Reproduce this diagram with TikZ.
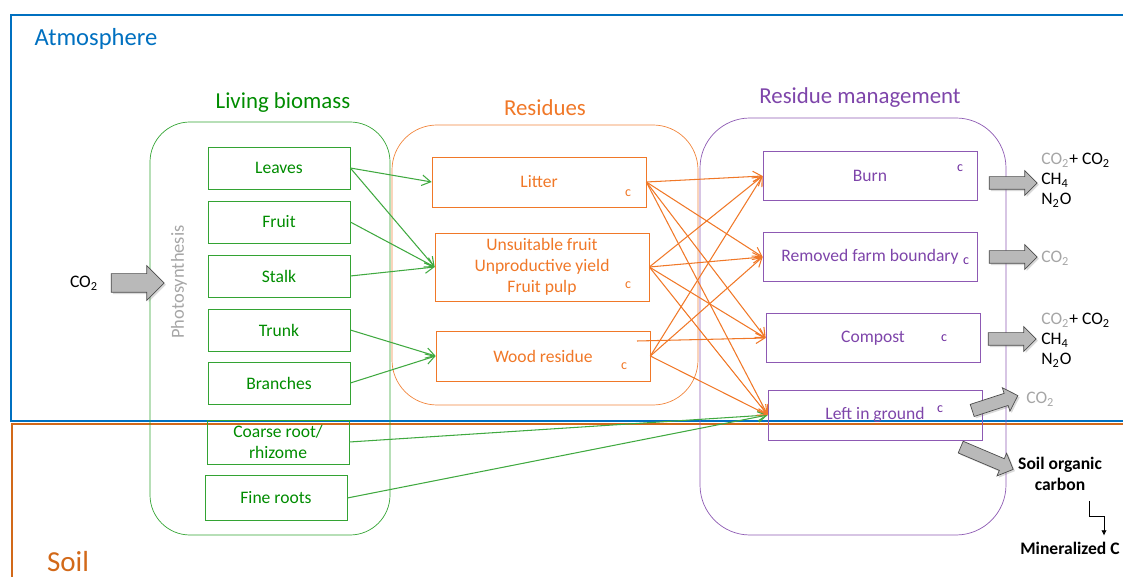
\documentclass[tikz,border=0pt]{standalone}
\usepackage{fontspec}
\setmainfont{Carlito}
\usetikzlibrary{arrows.meta,shapes.arrows,shadows}

\definecolor{atmblue}{RGB}{0,112,192}
\definecolor{soilorange}{RGB}{210,105,25}
\definecolor{bioGreen}{RGB}{0,140,0}
\definecolor{resOrange}{RGB}{240,120,40}
\definecolor{mgmtPurple}{RGB}{112,48,160}
\definecolor{gasGray}{RGB}{166,166,166}

\tikzset{
  gbox/.style={draw=bioGreen!80, text=bioGreen, minimum width=2.84cm, minimum height=0.84cm, inner sep=0pt, font=\fontsize{10}{12}\selectfont},
  obox/.style={draw=resOrange, text=resOrange, minimum width=4.28cm, minimum height=1cm, inner sep=0pt, align=center, font=\fontsize{10}{12}\selectfont},
  pbox/.style={draw=mgmtPurple!80, text=mgmtPurple!90, minimum width=4.28cm, minimum height=0.98cm, inner sep=0pt, font=\fontsize{10}{12}\selectfont},
  cmark/.style={inner sep=0pt, font=\fontsize{8}{9}\selectfont},
  head/.style={font=\fontsize{13}{15}\selectfont},
  garrow/.style={draw=bioGreen!75, semithick, -{Straight Barb[length=5pt,width=6pt]}},
  oarrow/.style={draw=resOrange, semithick, -{Straight Barb[length=5pt,width=6pt]}},
  fatarrow/.style={single arrow, draw=black!70, fill=gray!55, inner xsep=0pt, single arrow head indent=0pt, drop shadow={shadow xshift=1pt, shadow yshift=-1pt, opacity=0.3}},
  bigfat/.style={fatarrow, minimum height=1.06cm, inner ysep=0.18cm, single arrow head extend=0.16cm},
  smallfat/.style={fatarrow, minimum height=0.96cm, inner ysep=0.12cm, single arrow head extend=0.12cm},
  gas/.style={anchor=west, inner sep=0pt, font=\fontsize{10}{12}\selectfont},
}

\begin{document}
\begin{tikzpicture}[x=0.02cm, y=-0.02cm]
  \useasboundingbox (0,0) rectangle (1123,577);

  % atmosphere and soil
  \draw[atmblue, line width=1.2pt] (1123,15) -- (11,15) -- (11,421) -- (1123,421);
  \draw[soilorange, line width=1.2pt] (1123,424) -- (12,424) -- (12,577);
  \node[text=atmblue, font=\fontsize{14}{16}\selectfont] (atm) at (96,39) {Atmosphere};
  \node[text=soilorange, font=\fontsize{16.5}{18}\selectfont] (soil) at (68,562) {Soil};

  % groups
  \draw[bioGreen!80, rounded corners=0.8cm] (150,122) rectangle (390,535);
  \draw[resOrange!90, rounded corners=0.9cm] (392,125) rectangle (698,405);
  \draw[mgmtPurple!80, rounded corners=1cm] (700,118) rectangle (1006,535);
  \node[head, text=bioGreen] (biohead) at (283,103) {Living biomass};
  \node[head, text=resOrange] (reshead) at (545,108) {Residues};
  \node[head, text=mgmtPurple!90] (mgmthead) at (860,98) {Residue management};

  \node[rotate=90, text=gasGray, font=\fontsize{10.5}{12}\selectfont] (photo) at (179,282) {Photosynthesis};

  % living biomass
  \node[gbox] (leaves) at (279,168) {Leaves};
  \node[gbox] (fruit) at (279,222) {Fruit};
  \node[gbox] (stalk) at (279,276) {Stalk};
  \node[gbox] (trunk) at (279,330) {Trunk};
  \node[gbox] (branches) at (279,383) {Branches};
  \node[gbox, minimum height=0.88cm, align=center] (coarse) at (278,442) {Coarse root/\\rhizome};
  \node[gbox, minimum height=0.9cm] (fine) at (276,498) {Fine roots};

  % residues
  \node[obox] (litter) at (539,182) {Litter};
  \node[obox, minimum height=1.36cm] (unsuit) at (542,267) {Unsuitable fruit\\Unproductive yield\\Fruit pulp};
  \node[obox] (wood) at (543,356) {Wood residue};
  \node[cmark, text=resOrange] (litterc) at (628,193) {c};
  \node[cmark, text=resOrange] (unsuitc) at (628,285) {c};
  \node[cmark, text=resOrange] (woodc) at (624,366) {c};

  % management
  \node[pbox] (burn) at (870,176) {Burn};
  \node[pbox] (removed) at (870,257) {Removed farm boundary};
  \node[pbox] (compost) at (873,338) {Compost};
  \node[pbox, minimum height=1cm] (left) at (875,415) {Left in ground};
  \node[cmark, text=mgmtPurple] (burnc) at (960,168) {c};
  \node[cmark, text=mgmtPurple] (removedc) at (966,261) {c};
  \node[cmark, text=mgmtPurple] (compostc) at (944,338) {c};
  \node[cmark, text=mgmtPurple] (leftc) at (940,409) {c};

  % biomass to residues
  \draw[garrow] (leaves.east) -- (litter.west);
  \draw[garrow] (leaves.east) -- (unsuit.west);
  \draw[garrow] (fruit.east) -- (unsuit.west);
  \draw[garrow] (stalk.east) -- (unsuit.west);
  \draw[garrow] (trunk.east) -- (wood.west);
  \draw[garrow] (branches.east) -- (wood.west);
  \draw[garrow] (coarse.east) -- (left.west);
  \draw[garrow] (fine.east) -- (left.west);

  % residues to management
  \foreach \r in {litter, unsuit} {
    \foreach \m in {burn, removed, compost, left} {
      \draw[oarrow] (\r.east) -- (\m.west);
    }
  }
  \foreach \m in {burn, removed, left} {
    \draw[oarrow] (wood.east) -- (\m.west);
  }
  \coordinate (woodstart) at (637,341);
  \draw[oarrow] (woodstart) -- (compost.west);

  % gases
  \node[bigfat] (co2in) at (133,283) {};
  \node[font=\fontsize{10}{12}\selectfont] (co2inlabel) at (84,283) {CO\textsubscript{2}};

  \node[smallfat] (burnout) at (1010,183) {};
  \node[gas] (burng1) at (1041,160) {\textcolor{gasGray}{CO\textsubscript{2}}+ CO\textsubscript{2}};
  \node[gas] (burng2) at (1041,180) {CH\textsubscript{4}};
  \node[gas] (burng3) at (1041,200) {N\textsubscript{2}O};

  \node[smallfat] (removedout) at (1010,257) {};
  \node[gas, text=gasGray] (removedg) at (1041,258) {CO\textsubscript{2}};

  \node[smallfat] (compostout) at (1009,339) {};
  \node[gas] (compostg1) at (1041,320) {\textcolor{gasGray}{CO\textsubscript{2}}+ CO\textsubscript{2}};
  \node[gas] (compostg2) at (1041,340) {CH\textsubscript{4}};
  \node[gas] (compostg3) at (1041,360) {N\textsubscript{2}O};

  \node[smallfat, rotate=18] (leftout) at (992,404) {};
  \node[gas, text=gasGray] (leftg) at (1026,399) {CO\textsubscript{2}};

  \node[smallfat, rotate=-23, minimum height=1.14cm] (soilout) at (984,457) {};
  \node[align=center, font=\bfseries\fontsize{10}{11.5}\selectfont] (soc) at (1060,474) {Soil organic\\carbon};
  \node[font=\bfseries\fontsize{10}{12}\selectfont] (mineral) at (1070,548) {Mineralized C};
  \draw[-{Latex[length=3pt,width=3pt]}, thin] (1089,501) |- (1104,516) -- (mineral.north -| 1104,516);
\end{tikzpicture}
\end{document}
